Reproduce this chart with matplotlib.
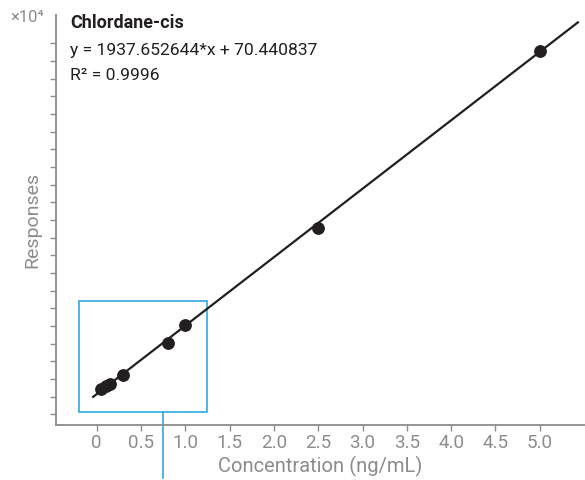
import numpy as np
import matplotlib
matplotlib.use('Agg')
import matplotlib.pyplot as plt
from matplotlib.patches import Rectangle
from matplotlib.lines import Line2D

plt.rcParams['font.family'] = ['Roboto', 'DejaVu Sans']

# calibration levels and measured responses
conc = [0.05, 0.1, 0.15, 0.3, 0.8, 1.0, 2.5, 5.0]
responses = [215, 286, 357, 625, 1517, 2026, 4771, 9789]

compound = 'Chlordane-cis'
slope = 1937.652644
intercept = 70.440837
r2 = 0.9996

xticks = [0, 0.5, 1.0, 1.5, 2.0, 2.5, 3.0, 3.5, 4.0, 4.5, 5.0]
xticklabels = ['0', '0.5', '1.0', '1.5', '2.0', '2.5', '3.0', '3.5', '4.0', '4.5', '5.0']
yticks = np.arange(-500, 10001, 500)

GREY = '#8c8c8c'
DARK = '#231f20'
BLUE = '#1ca3df'

W, H = 585, 480
fig = plt.figure(figsize=(W / 100, H / 100), dpi=100)
ax = fig.add_axes([55.5 / W, (H - 424.5) / H, (W - 55.5) / W, (424.5 - 15) / H])

ax.set_xlim(-0.465, 5.51)
ax.set_ylim(-790, 10800)

# fitted line
xfit = np.array([-0.04, 5.43])
ax.plot(xfit, slope * xfit + intercept, color=DARK, lw=1.6, zorder=3)
ax.plot(conc, responses, 'o', color=DARK, ms=8.2, zorder=4)

# zoom window around the low levels
ax.add_patch(Rectangle((-0.198, -444), 1.438, 3149, fill=False,
                       edgecolor=BLUE, lw=1.1, zorder=2))
ax.add_line(Line2D([0.75, 0.75], [-444, -444 - 66 * 28.3], color=BLUE,
                   lw=1.1, clip_on=False, zorder=2))

for side in ['top', 'right']:
    ax.spines[side].set_visible(False)
for side in ['left', 'bottom']:
    ax.spines[side].set_color(GREY)
    ax.spines[side].set_linewidth(1.3)

ax.set_xticks(xticks)
ax.set_xticklabels(xticklabels)
ax.set_yticks(yticks)
ax.set_yticklabels([])
ax.tick_params(axis='both', colors=GREY, length=4, width=1, labelsize=13.5,
               labelcolor=GREY)
ax.tick_params(axis='x', pad=3)

ax.set_xlabel('Concentration (ng/mL)', fontsize=14.5, color=GREY, labelpad=3)
ax.set_ylabel('Responses', fontsize=14, color=GREY, labelpad=3)

fig.text(10 / W, 1 - 18 / H, '×10⁴', fontsize=12, color=GREY,
         ha='left', va='center')
fig.text(70 / W, 1 - 23 / H, compound, fontsize=13, fontweight='bold',
         color=DARK, ha='left', va='center')
fig.text(70 / W, 1 - 51 / H, f'y = {slope:.6f}*x + {intercept:.6f}',
         fontsize=12.6, color=DARK, ha='left', va='center')
fig.text(70 / W, 1 - 75 / H, f'R² = {r2}', fontsize=12.6, color=DARK,
         ha='left', va='center')

fig.savefig('out.png', dpi=100)
